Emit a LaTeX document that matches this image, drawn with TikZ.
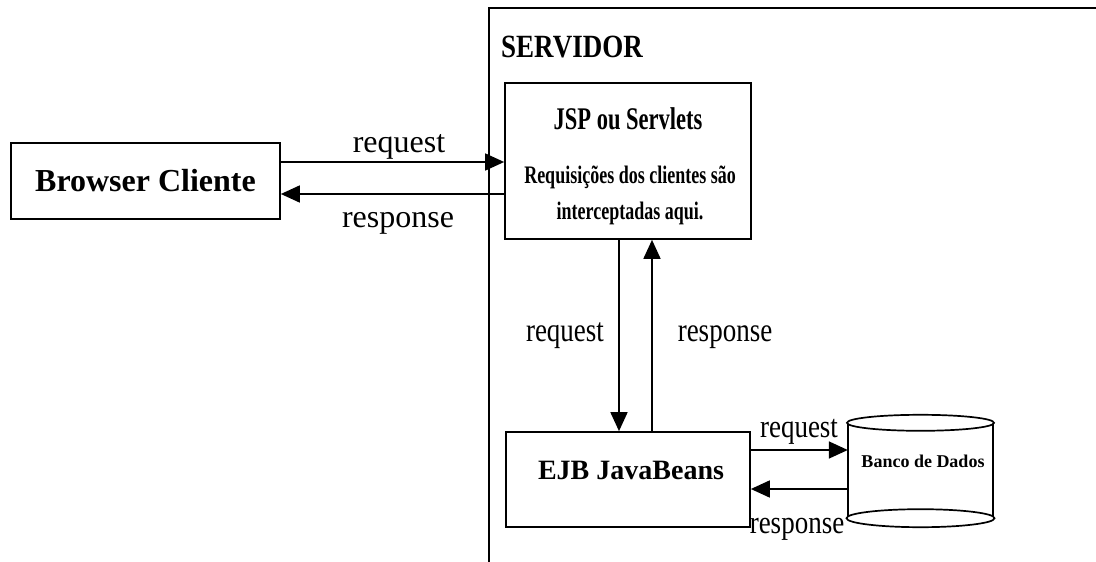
\documentclass[tikz,border=0pt]{standalone}
\usepackage{graphicx}
\usepackage{fontspec}
\setmainfont{Liberation Serif}
\usetikzlibrary{arrows.meta,calc}

% text drawn taller than its natural height
\newcommand{\vstretch}[2]{\scalebox{1}[#1]{#2}}

\begin{document}
\begin{tikzpicture}[x=1pt,y=-1pt,
  box/.style={draw,line width=1.7pt,rectangle,inner sep=0pt},
  conn/.style={line width=1.7pt,-{Triangle[length=19pt,width=17pt]}},
  big/.style={anchor=base,inner sep=0pt,font=\fontsize{32}{36}\selectfont},
  mid/.style={anchor=base,inner sep=0pt,font=\fontsize{27}{30}\selectfont},
]
\useasboundingbox (0,0) rectangle (1096,562);

% server area
\draw[line width=1.7pt] (489,562) coordinate (srvbot) -- (489,8) coordinate (srvcorner) -- (1096,8) coordinate (srvright);
\node[anchor=base west,inner sep=0pt,font=\bfseries\fontsize{27}{30}\selectfont] (srvname) at (501,57) {\vstretch{1.2}{SERVIDOR}};

% client
\node[box,minimum width=269pt,minimum height=76pt,font=\bfseries\fontsize{32}{36}\selectfont] (browser) at (145.5,181) {Browser Cliente};

% web tier
\node[box,minimum width=246pt,minimum height=156pt] (jsp) at (628,161) {};
\node[anchor=base,inner sep=0pt,font=\bfseries\fontsize{22.5}{26}\selectfont] (jsptitle) at (628,129) {\vstretch{1.4}{JSP ou Servlets}};
\node[anchor=base,inner sep=0pt,font=\bfseries\fontsize{18}{22}\selectfont] (jspline1) at (630,183) {\vstretch{1.4}{Requisições dos clientes são}};
\node[anchor=base,inner sep=0pt,font=\bfseries\fontsize{18}{22}\selectfont] (jspline2) at (630,219) {\vstretch{1.4}{interceptadas aqui.}};

% business tier
\node[box,minimum width=244pt,minimum height=95pt] (ejb) at (628,479.5) {};
\node[anchor=base,inner sep=0pt,font=\bfseries\fontsize{28}{32}\selectfont] (ejbtitle) at (631,479) {EJB JavaBeans};

% database cylinder
\node[rectangle,draw=none,minimum width=145pt,minimum height=95pt,inner sep=0pt] (db) at (920.5,470.5) {};
\node[anchor=base,inner sep=0pt,font=\bfseries\fontsize{18}{22}\selectfont] (dbtitle) at (923,467) {Banco de Dados};
\draw[line width=1.7pt] (db.north west) -- (db.south west) (db.north east) -- (db.south east);
\draw[line width=1.7pt,fill=white] (db.north) ellipse [x radius=73.5pt,y radius=8pt];
\draw[line width=1.7pt,fill=white] (db.south) ellipse [x radius=74pt,y radius=9pt];

% client <-> web tier
\draw[conn] ([yshift=19pt]browser.east) -- ([yshift=19pt]browser.east -| jsp.west);
\draw[conn] ([yshift=-13pt]browser.east -| jsp.west) -- ([yshift=-13pt]browser.east);
\node[big] (req1) at (399,152) {request};
\node[big] (resp1) at (398,227) {response};

% web tier <-> business tier
\draw[conn] ([xshift=-9pt]jsp.south) -- ([xshift=-9pt]jsp.south |- ejb.north);
\draw[conn] ([xshift=24pt]jsp.south |- ejb.north) -- ([xshift=24pt]jsp.south);
\node[mid] (req2) at (565,341) {\vstretch{1.24}{request}};
\node[mid] (resp2) at (725,341) {\vstretch{1.24}{response}};

% business tier <-> database
\draw[conn] ([yshift=29.5pt]ejb.east) -- ([yshift=29.5pt]ejb.east -| db.west);
\draw[conn] ([yshift=-9.5pt]ejb.east -| db.west) -- ([yshift=-9.5pt]ejb.east);
\node[mid] (req3) at (799,437) {\vstretch{1.2}{request}};
\node[mid] (resp3) at (797,533) {\vstretch{1.2}{response}};
\end{tikzpicture}
\end{document}
